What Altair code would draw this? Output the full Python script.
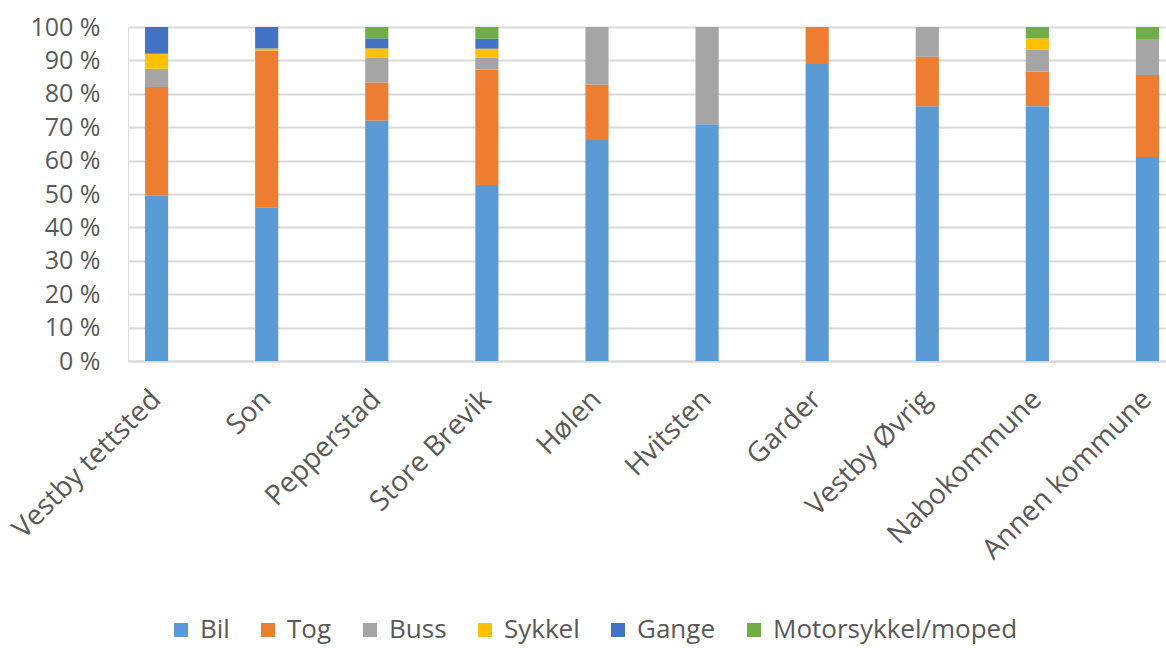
import altair as alt
import pandas as pd

categories = ["Vestby tettsted", "Son", "Pepperstad", "Store Brevik", "Hølen",
              "Hvitsten", "Garder", "Vestby Øvrig", "Nabokommune", "Annen kommune"]
modes = ["Bil", "Tog", "Buss", "Sykkel", "Gange", "Motorsykkel/moped"]
colors = ["#5B9BD5", "#ED7D31", "#A5A5A5", "#FFC000", "#4472C4", "#70AD47"]

bil    = [49.5, 46.0, 72.0, 52.7, 66.2, 70.9, 88.9, 76.3, 76.3, 61.1]
tog    = [32.5, 47.0, 11.4, 34.6, 16.6, 0.0, 11.1, 14.8, 10.3, 24.5]
buss   = [5.5, 0.0, 7.5, 3.5, 17.2, 29.1, 0.0, 8.9, 6.7, 10.8]
sykkel = [4.5, 0.6, 2.7, 2.7, 0.0, 0.0, 0.0, 0.0, 3.3, 0.0]
gange  = [8.0, 6.4, 3.0, 3.0, 0.0, 0.0, 0.0, 0.0, 0.0, 0.0]
moto   = [0.0, 0.0, 3.4, 3.5, 0.0, 0.0, 0.0, 0.0, 3.4, 3.6]

series = [bil, tog, buss, sykkel, gange, moto]
rows = []
for mi, (m, vals) in enumerate(zip(modes, series)):
    for c, v in zip(categories, vals):
        rows.append({"kategori": c, "modus": m, "verdi": v, "rekkefolge": mi})
df = pd.DataFrame(rows)

FONT = "Open Sans"
TXT = "#595959"

chart = alt.Chart(df).transform_filter("datum.verdi > 0").mark_bar().encode(
    x=alt.X("kategori:N", sort=categories,
            scale=alt.Scale(paddingInner=0.79, paddingOuter=0.109, align=0.71),
            axis=alt.Axis(title=None, labelAngle=-45, labelAlign="right", labelBaseline="middle",
                          labelPadding=34, labelFontSize=28, labelFont=FONT, labelColor=TXT,
                          ticks=False, domainColor="#D9D9D9", domainWidth=2, labelLimit=400)),
    y=alt.Y("verdi:Q", stack="normalize",
            scale=alt.Scale(domain=[0, 1]),
            axis=alt.Axis(title=None, values=[i / 10 for i in range(11)],
                          labelExpr="format(datum.value*100, '.0f') + ' %'",
                          labelFontSize=25, labelFont=FONT, labelColor=TXT, labelPadding=28,
                          ticks=False, domain=False, gridColor="#D9D9D9", gridWidth=2)),
    color=alt.Color("modus:N", scale=alt.Scale(domain=modes, range=colors),
                    legend=alt.Legend(title=None, orient="none", legendX=40, legendY=590,
                                      direction="horizontal", symbolType="square", symbolSize=196,
                                      symbolStrokeWidth=0, labelFontSize=26, labelFont=FONT,
                                      labelColor=TXT, columnPadding=25, labelOffset=6,
                                      labelLimit=500)),
    order=alt.Order("rekkefolge:Q", sort="ascending"),
).properties(
    width=1038, height=334,
    autosize=alt.AutoSizeParams(type="none"),
    padding={"left": 128, "top": 27, "right": 0, "bottom": 287},
).configure_view(stroke=None).configure(background="white")

chart.save("out.html", embed_options={"renderer": "svg", "actions": False})
